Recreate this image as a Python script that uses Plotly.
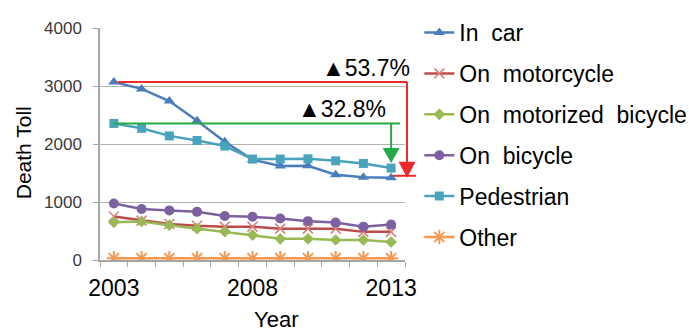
import plotly.graph_objects as go

# Road traffic death toll by mode, 2003-2013
years = list(range(2003, 2014))
in_car = [3070, 2950, 2740, 2400, 2040, 1730, 1620, 1625, 1470, 1425, 1420]
motorcycle = [750, 680, 620, 590, 575, 575, 540, 540, 540, 485, 485]
motorized_bicycle = [650, 665, 600, 540, 490, 430, 365, 365, 345, 345, 310]
bicycle = [975, 880, 855, 830, 760, 745, 715, 670, 645, 575, 610]
pedestrian = [2355, 2270, 2140, 2060, 1965, 1740, 1740, 1745, 1710, 1665, 1585]
other = [30, 30, 30, 30, 30, 30, 30, 30, 30, 30, 30]

tick_years = [2003, 2008, 2013]
y_ticks = [0, 1000, 2000, 3000, 4000]
car_drop_label = "▲53.7%"
ped_drop_label = "▲32.8%"

FONT = "Liberation Sans, Arial, sans-serif"
SP = "\u00a0 "  # wide word spacing in legend labels

X_RANGE = [years[0] - 0.5, years[-1] + 0.5]
Y_RANGE = [y_ticks[0], y_ticks[-1]]


def px(year):
    """Year -> plot-area fraction along x."""
    return (year - X_RANGE[0]) / (X_RANGE[1] - X_RANGE[0])


def py(value):
    """Death toll -> plot-area fraction along y."""
    return (value - Y_RANGE[0]) / (Y_RANGE[1] - Y_RANGE[0])


series = [
    (f"In{SP}car", in_car, "#4a7ebb", "#4a7ebb", "triangle-up", 10, 0),
    (f"On{SP}motorcycle", motorcycle, "#be4b48", "#d9837f", "x-thin-open", 10, 1.6),
    (f"On{SP}motorized{SP}bicycle", motorized_bicycle, "#98b954", "#98b954", "diamond", 9, 0),
    (f"On{SP}bicycle", bicycle, "#7d60a0", "#7d60a0", "circle", 10, 0),
    ("Pedestrian", pedestrian, "#4aa3bd", "#4aa3bd", "square", 9, 0),
    ("Other", other, "#f79646", "#f59a55", "asterisk-open", 12, 2),
]

fig = go.Figure()
for i, (name, vals, lc, mc, sym, size, mlw) in enumerate(series):
    marker = dict(symbol=sym, size=size, color=mc)
    if mlw:
        marker["line"] = dict(color=mc, width=mlw)
    fig.add_trace(go.Scatter(
        x=years, y=vals, name=name, mode="lines+markers",
        line=dict(color=lc, width=2.5), marker=marker,
        legendgroup=f"g{i}",
    ))

# Drop indicators: leader from the 2003 level, arrow down to the 2013 level
red = "#ee2a2a"
green = "#22aa44"
car_x = 1.0066   # red leader runs just past the right edge of the plot
ped_x_end = 0.984
shapes = [
    dict(type="line", xref="paper", yref="paper", x0=px(2003.15), x1=car_x,
         y0=py(in_car[0]), y1=py(in_car[0]), line=dict(color=red, width=2)),
    dict(type="line", xref="paper", yref="paper", x0=car_x, x1=car_x,
         y0=py(in_car[0]), y1=py(in_car[-1]) + 0.06, line=dict(color=red, width=2)),
    dict(type="line", xref="paper", yref="paper", x0=0.961, x1=1.036,
         y0=py(in_car[-1]) + 0.008, y1=py(in_car[-1]) + 0.008, line=dict(color=red, width=2)),
    dict(type="path", xref="paper", yref="paper", xsizemode="pixel", ysizemode="pixel",
         xanchor=car_x, yanchor=py(in_car[-1]), path="M-8.5,16 L8.5,16 L0,0 Z",
         fillcolor=red, line=dict(color=red, width=0)),
    dict(type="line", xref="paper", yref="paper", x0=px(2003), x1=ped_x_end,
         y0=py(pedestrian[0]), y1=py(pedestrian[0]), line=dict(color=green, width=2)),
    dict(type="line", xref="paper", yref="paper", x0=px(2013), x1=px(2013),
         y0=py(pedestrian[0]), y1=py(pedestrian[-1]) + 0.07, line=dict(color=green, width=2)),
    dict(type="path", xref="paper", yref="paper", xsizemode="pixel", ysizemode="pixel",
         xanchor=px(2013), yanchor=py(pedestrian[-1]), path="M-8.5,20 L8.5,20 L0,5 Z",
         fillcolor=green, line=dict(color=green, width=0)),
]

annotations = [
    dict(text=car_drop_label, xref="paper", yref="paper", x=1.023, y=py(in_car[0]),
         xanchor="right", yanchor="bottom", yshift=-1, showarrow=False,
         font=dict(family=FONT, size=23, color="black")),
    dict(text=ped_drop_label, xref="paper", yref="paper", x=0.944, y=py(pedestrian[0]),
         xanchor="right", yanchor="bottom", yshift=-1, showarrow=False,
         font=dict(family=FONT, size=23, color="black")),
    dict(text="Death Toll", xref="paper", yref="paper", x=-0.251, y=0.462, textangle=-90,
         xanchor="center", yanchor="middle", showarrow=False,
         font=dict(family=FONT, size=21, color="black")),
    dict(text="Year", xref="paper", yref="paper", x=0.578, y=-0.193, xanchor="center",
         yanchor="top", showarrow=False, font=dict(family=FONT, size=22, color="black")),
]

fig.update_layout(
    width=689, height=334,
    margin=dict(l=100, r=284, t=28, b=74, autoexpand=False),
    paper_bgcolor="white", plot_bgcolor="white",
    font=dict(family=FONT, color="black"),
    shapes=shapes, annotations=annotations,
    showlegend=True,
    legend=dict(
        x=1.047, y=1.073, xanchor="left", yanchor="top",
        traceorder="grouped", tracegroupgap=8, maxheight=330,
        font=dict(family=FONT, size=23, color="black"),
        bgcolor="rgba(0,0,0,0)",
    ),
)

fig.update_xaxes(
    range=X_RANGE, tickvals=tick_years, ticktext=[str(y) for y in tick_years],
    ticks="", showgrid=False, showline=True, linecolor="#a6a6a6", linewidth=1.5,
    zeroline=False, tickfont=dict(family=FONT, size=23, color="black"),
    ticklabelstandoff=7,
    minor=dict(tickvals=[y - 0.5 for y in years] + [years[-1] + 0.5], ticks="outside",
               ticklen=5, tickcolor="#a6a6a6", tickwidth=1.2, showgrid=False),
)
fig.update_yaxes(
    range=Y_RANGE, tickvals=y_ticks,
    showgrid=True, gridcolor="#b3b3b3", gridwidth=1.2,
    showline=True, linecolor="#a6a6a6", linewidth=1.5,
    ticks="outside", ticklen=5, tickcolor="#a6a6a6",
    zeroline=False, tickfont=dict(family=FONT, size=17, color="#3a3a3a"),
    ticklabelstandoff=8,
)

fig.write_html("out.html")
